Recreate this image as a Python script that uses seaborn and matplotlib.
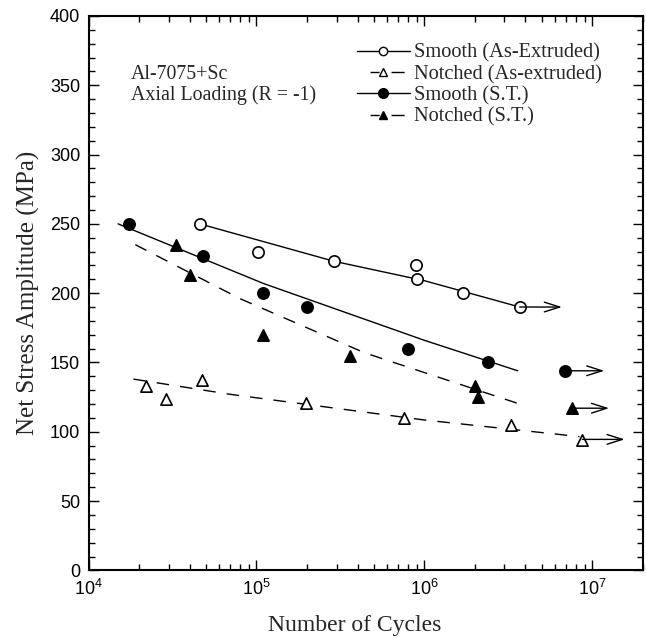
import numpy as np
import pandas as pd
import matplotlib
matplotlib.use("Agg")
import matplotlib.pyplot as plt
from matplotlib.lines import Line2D
from matplotlib.ticker import LogLocator, MultipleLocator
import seaborn as sns

# data (cycles, net stress amplitude MPa)
smooth_ae_n = [4.6e4, 1.02e5, 2.9e5, 8.9e5, 9.1e5, 1.7e6, 3.7e6]
smooth_ae_s = [250, 230, 223, 220, 210, 200, 190]
notched_ae_n = [2.2e4, 2.9e4, 4.75e4, 1.97e5, 7.6e5, 3.3e6, 8.75e6]
notched_ae_s = [133, 124, 137, 121, 110, 105, 94]
smooth_st_n = [1.75e4, 4.8e4, 1.09e5, 2.0e5, 8.0e5, 2.4e6, 6.9e6]
smooth_st_s = [250, 227, 200, 190, 160, 150, 144]
notched_st_n = [3.3e4, 4.05e4, 1.09e5, 3.6e5, 2.0e6, 2.1e6, 7.6e6]
notched_st_s = [235, 213, 170, 155, 133, 125, 117]

# fitted curves
smooth_ae_fit_n = [4.6e4, 2.9e5, 1.0e6, 3.7e6]
smooth_ae_fit_s = [250, 223, 209, 190]
notched_ae_fit_n = [1.85e4, 7.0e4, 1.0e6, 8.4e6]
notched_ae_fit_s = [138, 127, 108.5, 96.5]
smooth_st_fit_n = [1.5e4, 1.1e5, 1.0e6, 3.6e6]
smooth_st_fit_s = [250, 207, 166, 144]
notched_st_fit_n = [1.9e4, 8.0e4, 4.4e5, 3.7e6]
notched_st_fit_s = [235, 196, 157, 120]

# run-outs: start point -> arrow tip
runout_start_n = [3.7e6, 6.9e6, 7.6e6, 8.75e6]
runout_end_n = [6.6e6, 1.18e7, 1.26e7, 1.56e7]
runout_s = [190, 144, 117, 94.5]

labels = ["Smooth (As-Extruded)", "Notched (As-extruded)",
          "Smooth (S.T.)", "Notched (S.T.)"]

sns.set_style("ticks")
plt.rcParams["font.family"] = ["Liberation Sans", "DejaVu Sans"]
plt.rcParams["mathtext.default"] = "regular"
serif = ["Liberation Serif", "DejaVu Serif"]

fig = plt.figure(figsize=(6.46, 6.38), dpi=100)
ax = fig.add_axes([0.137, 0.106, 0.858, 0.869])

dash = (0, (9, 8))
leg_dash = (0, (0.01, 9.4, 6.5, 8.6, 9.4, 20))
series = [
    (smooth_ae_n, smooth_ae_s, smooth_ae_fit_n, smooth_ae_fit_s, "o", "white", "-", 6),
    (notched_ae_n, notched_ae_s, notched_ae_fit_n, notched_ae_fit_s, "^", "white", dash, 5.5),
    (smooth_st_n, smooth_st_s, smooth_st_fit_n, smooth_st_fit_s, "o", "black", "-", 7),
    (notched_st_n, notched_st_s, notched_st_fit_n, notched_st_fit_s, "^", "black", dash, 6),
]

handles = []
for (n, s, fn, fs, mk, fc, ls, hm), lab in zip(series, labels):
    fit = pd.DataFrame({"n": fn, "s": fs})
    sns.lineplot(data=fit, x="n", y="s", ax=ax, color="black", lw=1.0,
                 linestyle=ls, sort=False, legend=False)
    pts = pd.DataFrame({"n": n, "s": s})
    sns.scatterplot(data=pts, x="n", y="s", ax=ax, marker=mk, s=66,
                    facecolor=fc, edgecolor="black", linewidth=1.2,
                    legend=False, zorder=3)
    handles.append(Line2D([], [], color="black", lw=1.0,
                          linestyle=leg_dash if ls != "-" else "-",
                          marker=mk, markersize=hm, markerfacecolor=fc,
                          markeredgecolor="black", markeredgewidth=1.0))

for n0, n1, s in zip(runout_start_n, runout_end_n, runout_s):
    ax.annotate("", xy=(n1, s), xytext=(n0, s),
                arrowprops=dict(arrowstyle="->,head_length=1.1,head_width=0.35",
                                color="black", lw=1.0, shrinkA=0, shrinkB=0))

ax.set_xscale("log")
ax.set_xlim(1e4, 2e7)
ax.set_ylim(0, 400)
ax.yaxis.set_major_locator(MultipleLocator(50))
ax.yaxis.set_minor_locator(MultipleLocator(10))
ax.xaxis.set_major_locator(LogLocator(base=10, numticks=10))
ax.xaxis.set_minor_locator(LogLocator(base=10, subs=np.arange(2, 10), numticks=20))
ax.tick_params(which="both", direction="in", top=True, right=True,
               width=1.0, labelsize=13, colors="black")
ax.tick_params(which="major", length=7, pad=6)
ax.tick_params(which="minor", length=4)
for sp in ax.spines.values():
    sp.set_linewidth(1.5)
    sp.set_color("black")

ax.set_xlabel("Number of Cycles", family=serif, fontsize=17)
ax.xaxis.set_label_coords(0.481, -0.08)
ax.set_ylabel("Net Stress Amplitude (MPa)", family=serif, fontsize=18, labelpad=7)

ax.text(0.077, 0.8854, "Al-7075+Sc", transform=ax.transAxes, family=serif,
        fontsize=14.3, va="baseline")
ax.text(0.077, 0.848, "Axial Loading (R = -1)", transform=ax.transAxes,
        family=serif, fontsize=14.3, va="baseline")

ax.legend(handles, labels, loc="upper left", bbox_to_anchor=(0.484, 0.95),
          frameon=False, prop={"family": serif, "size": 14.7},
          handlelength=2.6, handletextpad=0.2, labelspacing=0.1,
          borderaxespad=0, borderpad=0)

fig.savefig("out.png", dpi=100)
